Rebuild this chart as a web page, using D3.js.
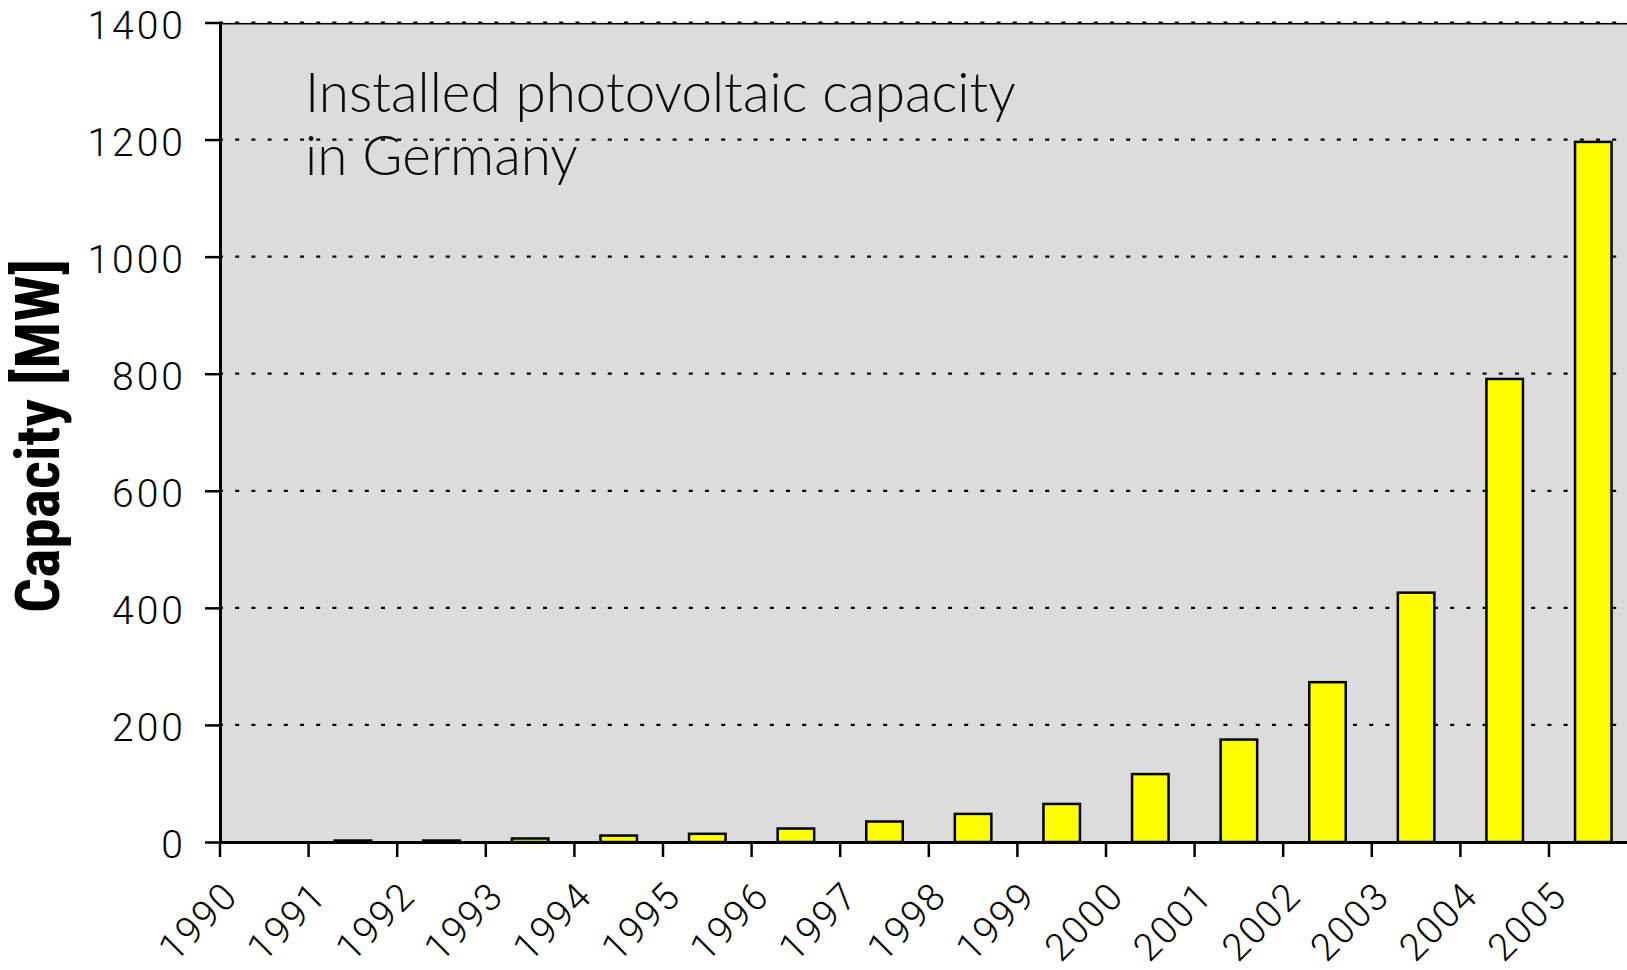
<!DOCTYPE html>
<html><head><meta charset="utf-8">
<script src="https://cdn.jsdelivr.net/npm/d3@7"></script>
<style>body{margin:0;background:#fff;overflow:hidden}</style></head>
<body><svg id="chart" width="1627" height="970"></svg>
<script>
// ---- data ----
const years = ["1990","1991","1992","1993","1994","1995","1996","1997","1998","1999","2000","2001","2002","2003","2004","2005"];
const capacity = [0, 2.5, 2.5, 6, 11, 14, 23, 35, 48, 65, 116, 175, 273, 426, 791, 1196];
const yTicks = [0, 200, 400, 600, 800, 1000, 1200, 1400];
const titleLines = ["Installed photovoltaic capacity", "in Germany"];
const yLabel = "Capacity [MW]";

// ---- layout ----
const W = 1627, H = 970;
const left = 220, step = 88.6;
const svg = d3.select("#chart");
const x = d3.scaleBand().domain(years).range([left, left + step * years.length]).paddingInner(0).paddingOuter(0);
const y = d3.scaleLinear().domain([0, 1400]).range([842, 22.5]);
const plotRight = W + 20;
const lightFont = "Roboto, 'Open Sans', sans-serif";

// plot background
svg.append("rect").attr("x", left).attr("y", y(1400)).attr("width", plotRight - left).attr("height", y(0) - y(1400)).attr("fill", "#dcdcdc");

// gridlines (dotted)
svg.append("g").selectAll("line").data(yTicks.filter(d => d > 0)).join("line")
  .attr("x1", left - 1).attr("x2", plotRight).attr("y1", d => y(d)).attr("y2", d => y(d))
  .attr("stroke", "#000").attr("stroke-width", 2.2).attr("stroke-dasharray", "4 12.2");
// top border
svg.append("line").attr("x1", left).attr("x2", plotRight).attr("y1", y(1400) + 1.2).attr("y2", y(1400) + 1.2)
  .attr("stroke", "#000").attr("stroke-width", 1.6);

// bars
const barW = 36.5;
svg.append("g").selectAll("rect").data(years.map((yr, i) => ({yr, v: capacity[i]})).filter(d => d.v > 0)).join("rect")
  .attr("x", d => x(d.yr) + (x.bandwidth() - barW) / 2)
  .attr("width", barW)
  .attr("y", d => y(d.v))
  .attr("height", d => y(0) - y(d.v))
  .attr("fill", "#ffff00").attr("stroke", "#000").attr("stroke-width", 2.5);

// x axis: ticks at category boundaries
const xTick = x.copy().range([left - step / 2, left + step * years.length - step / 2]);
const gx = svg.append("g").attr("transform", `translate(0,${y(0)})`)
  .call(d3.axisBottom(xTick).tickSize(15).tickSizeOuter(0));
gx.select(".domain").remove();
gx.selectAll(".tick line").attr("stroke", "#000").attr("stroke-width", 2.5);
gx.selectAll(".tick text")
  .attr("x", null).attr("y", null).attr("dy", null)
  .attr("transform", "translate(20,56) rotate(-45)")
  .style("text-anchor", "end")
  .style("font-family", lightFont).style("font-weight", 300)
  .style("font-size", "38px").style("letter-spacing", "2px").attr("fill", "#000");
// zero line
svg.append("line").attr("x1", left).attr("x2", plotRight).attr("y1", y(0) + 0.5).attr("y2", y(0) + 0.5)
  .attr("stroke", "#000").attr("stroke-width", 3);

// y axis
const gy = svg.append("g").attr("transform", `translate(${left},0)`)
  .call(d3.axisLeft(y).tickValues(yTicks).tickFormat(d3.format("d")).tickSize(15).tickSizeOuter(0).tickPadding(19));
gy.select(".domain").attr("stroke", "#000").attr("stroke-width", 3);
gy.selectAll(".tick line").attr("stroke", "#000").attr("stroke-width", 2.5);
gy.selectAll(".tick text")
  .attr("dy", "0.40em")
  .style("font-family", lightFont).style("font-weight", 300)
  .style("font-size", "39px").style("letter-spacing", "3px").attr("fill", "#000");

// title
const title = svg.append("g");
const t1 = title.append("text").attr("x", 305).attr("y", 111.7)
  .style("font-family", "Lato, sans-serif").style("font-weight", 300).style("font-size", "100px").attr("fill", "#0a0a0a").text(titleLines[0]);
const tw = t1.node().getComputedTextLength();
const tfs = 100 * 711 / tw;
t1.style("font-size", tfs + "px");
title.append("text").attr("x", 305).attr("y", 175)
  .style("font-family", "Lato, sans-serif").style("font-weight", 300).style("font-size", tfs + "px").attr("fill", "#0a0a0a").text(titleLines[1]);

// y label
const yl = svg.append("text").attr("transform", "translate(58.5,436) rotate(-90)")
  .style("text-anchor", "middle")
  .style("font-family", "'Roboto Condensed', 'Roboto', sans-serif").style("font-weight", 700).style("font-size", "100px").attr("fill", "#000").text(yLabel);
const yw = yl.node().getComputedTextLength();
yl.style("font-size", (100 * 354 / yw) + "px");
</script></body></html>
